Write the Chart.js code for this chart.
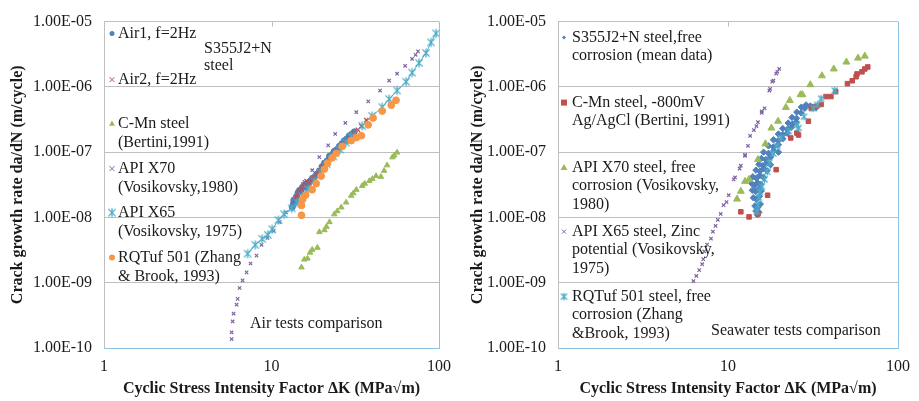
<!DOCTYPE html>
<html>
<head>
<meta charset="utf-8">
<script src="https://cdn.jsdelivr.net/npm/chart.js@4.4.1/dist/chart.umd.min.js"></script>
<style>
    html, body { margin: 0; padding: 0; background: #fff; }
    #wrap { position: relative; width: 919px; height: 401px; }
    #leftChart { position: absolute; left: 0; top: 0; }
    #rightChart { position: absolute; left: 460px; top: 0; }
</style>
</head>
<body>
<div id="wrap">
    <canvas id="leftChart" width="460" height="401"></canvas>
    <canvas id="rightChart" width="459" height="401"></canvas>
</div>
<script>
// Axis ticks (shared by both panels)
const xTickValues = [1, 10, 100];
const xTickLabels = ['1', '10', '100'];
const yTickValues = [1e-10, 1e-9, 1e-8, 1e-7, 1e-6, 1e-5];
const yTickLabels = ['1.00E-10', '1.00E-09', '1.00E-08', '1.00E-07', '1.00E-06', '1.00E-05'];
const xTitle = 'Cyclic Stress Intensity Factor \u0394K (MPa\u221Am)';
const yTitle = 'Crack growth rate da/dN (m/cycle)';

// ---- Air tests (left panel) ----
const air1DK = [13.3, 13.5, 13.6, 13.9, 14.1, 14.4, 14.7, 15.0, 15.3, 15.7, 16.0, 16.4, 16.8, 17.2, 17.6, 18.0, 18.6, 19.3, 20.0, 20.7, 21.5, 22.2, 23.0, 23.7, 24.6, 25.4, 26.3, 27.2, 28.2, 29.1, 30.2, 31.2];
const air1Rate = [1.43e-8, 1.6e-8, 1.85e-8, 1.75e-8, 2.1e-8, 2.4e-8, 2.6e-8, 2.5e-8, 2.9e-8, 3.1e-8, 2.9e-8, 3.3e-8, 3.5e-8, 3.7e-8, 4.0e-8, 4.1e-8, 4.6e-8, 5.1e-8, 6.0e-8, 6.8e-8, 7.4e-8, 8.7e-8, 9.2e-8, 1.03e-7, 1.1e-7, 1.23e-7, 1.35e-7, 1.5e-7, 1.6e-7, 1.78e-7, 1.9e-7, 2.05e-7];

const air2DK = [14.0, 14.3, 14.7, 15.1, 15.5, 15.7, 16.2, 16.8, 17.4, 18.0, 18.6, 19.3, 20.2, 21.3, 22.2, 23.1, 24.2, 25.4, 26.6, 27.9, 29.5, 31.2, 32.8, 34.4, 36.8];
const air2Rate = [2.0e-8, 2.24e-8, 2.6e-8, 2.75e-8, 3.2e-8, 3.05e-8, 3.6e-8, 3.4e-8, 3.9e-8, 4.1e-8, 4.6e-8, 5.3e-8, 6.0e-8, 6.8e-8, 7.8e-8, 8.9e-8, 1.0e-7, 1.14e-7, 1.3e-7, 1.45e-7, 1.65e-7, 1.9e-7, 2.2e-7, 2.5e-7, 3.1e-7];

const cmnAirDK = [15.1, 15.7, 16.4, 17.0, 17.5, 18.8, 19.3, 20.7, 21.3, 22.2, 23.7, 24.7, 26.1, 27.9, 29.9, 30.8, 32.1, 34.8, 36.0, 38.4, 40.0, 42.1, 45.0, 47.0, 49.0, 52.7, 54.0, 56.2];
const cmnAirRate = [1.72e-9, 2.27e-9, 2.35e-9, 2.9e-9, 3.2e-9, 3.44e-9, 5.98e-9, 6.4e-9, 7.2e-9, 8.5e-9, 1.12e-8, 1.25e-8, 1.43e-8, 1.7e-8, 2.16e-8, 2.35e-8, 2.66e-8, 3.05e-8, 3.3e-8, 3.63e-8, 3.9e-8, 4.32e-8, 4.2e-8, 5.2e-8, 6.3e-8, 8.35e-8, 8.9e-8, 9.9e-8];

const x70AirDK = [5.78, 5.78, 5.86, 5.94, 6.19, 6.28, 6.45, 6.72, 7.10, 7.50, 8.14, 8.72, 9.47, 10.3, 11.2, 12.2, 13.3, 14.5, 15.7, 17.5, 19.3, 21.8, 24.0, 27.6, 32.1, 37.8, 44.5, 50.4, 56.2, 62.8, 69.1, 72.5, 75.0];
const x70AirRate = [1.37e-10, 1.74e-10, 2.55e-10, 3.37e-10, 4.6e-10, 5.66e-10, 8.3e-10, 1.09e-9, 1.44e-9, 1.97e-9, 2.6e-9, 3.81e-9, 4.86e-9, 6.2e-9, 8.5e-9, 1.2e-8, 1.7e-8, 2.5e-8, 3.5e-8, 5.3e-8, 8.4e-8, 1.27e-7, 1.9e-7, 2.8e-7, 4.1e-7, 6.0e-7, 8.8e-7, 1.25e-6, 1.59e-6, 2.1e-6, 2.68e-6, 3.1e-6, 3.5e-6];

const x65AirDK = [7.2, 8.0, 8.8, 9.5, 10.1, 11.0, 11.9, 13.2, 14.2, 15.3, 16.5, 18.0, 19.6, 21.4, 23.4, 25.6, 27.8, 29.9, 34.8, 39.9, 45.8, 50.4, 56.2, 63.6, 69.1, 76.0, 83.7, 89.6, 96.0];
const x65AirRate = [2.79e-9, 3.8e-9, 4.7e-9, 5.4e-9, 6.6e-9, 9.1e-9, 1.12e-8, 1.38e-8, 1.7e-8, 2.1e-8, 2.7e-8, 3.6e-8, 4.9e-8, 6.5e-8, 8.6e-8, 1.1e-7, 1.4e-7, 1.73e-7, 2.53e-7, 3.58e-7, 4.9e-7, 6.5e-7, 8.8e-7, 1.2e-6, 1.65e-6, 2.33e-6, 3.3e-6, 4.8e-6, 6.6e-6];

const rqAirDK = [15.1, 15.1, 15.3, 16.0, 17.5, 18.5, 19.8, 20.7, 21.6, 23.0, 24.4, 26.4, 29.9, 32.1, 34.4, 37.8, 40.4, 45.8, 51.9, 55.4];
const rqAirRate = [1.08e-8, 1.53e-8, 1.88e-8, 2.2e-8, 2.66e-8, 3.3e-8, 4.3e-8, 5.5e-8, 6.8e-8, 8.2e-8, 9.6e-8, 1.23e-7, 1.5e-7, 1.67e-7, 1.79e-7, 2.62e-7, 3.34e-7, 4.26e-7, 5.25e-7, 6.24e-7];

const airNames = [
    ['Air1, f=2Hz'],
    ['Air2, f=2Hz'],
    ['C-Mn steel', '(Bertini,1991)'],
    ['API X70', '(Vosikovsky,1980)'],
    ['API X65', '(Vosikovsky, 1975)'],
    ['RQTuf 501 (Zhang', '& Brook, 1993)']
];

// ---- Seawater tests (right panel) ----
const s355DK = [14.9, 14.6, 15.2, 14.4, 15.0, 15.5, 14.1, 14.7, 15.3, 13.9, 14.5, 15.1, 15.7, 13.8, 14.3, 14.9, 15.6, 14.0, 14.7, 15.4, 16.2, 14.6, 15.4, 16.2, 17.0, 15.2, 16.0, 16.9, 17.8, 15.7, 16.7, 17.8, 16.2, 17.3, 18.6, 19.8, 17.3, 18.5, 19.8, 18.5, 19.7, 21.0, 19.8, 21.0, 22.3, 21.0, 22.4, 23.6, 22.6, 24.0, 25.2, 23.8, 25.3, 25.4, 26.9, 27.0, 28.3, 28.8, 30.5, 31.5, 33.0];
const s355Rate = [1.1e-8, 1.25e-8, 1.2e-8, 1.5e-8, 1.45e-8, 1.6e-8, 2.0e-8, 1.9e-8, 2.1e-8, 2.6e-8, 2.5e-8, 2.7e-8, 2.55e-8, 3.3e-8, 3.1e-8, 3.4e-8, 3.2e-8, 4.2e-8, 4.0e-8, 4.4e-8, 4.1e-8, 5.3e-8, 5.1e-8, 5.6e-8, 5.2e-8, 6.5e-8, 6.2e-8, 6.8e-8, 6.4e-8, 8.0e-8, 7.7e-8, 8.4e-8, 1.0e-7, 9.6e-8, 1.05e-7, 1.0e-7, 1.25e-7, 1.2e-7, 1.3e-7, 1.55e-7, 1.5e-7, 1.6e-7, 1.9e-7, 1.85e-7, 1.95e-7, 2.3e-7, 2.25e-7, 2.4e-7, 2.8e-7, 2.7e-7, 2.9e-7, 3.4e-7, 3.3e-7, 4.1e-7, 4.0e-7, 4.9e-7, 4.7e-7, 5.3e-7, 5.1e-7, 4.9e-7, 4.8e-7];

const cmnSeaDK = [11.9, 13.3, 15.0, 17.1, 19.2, 23.4, 25.4, 26.0, 29.7, 30.9, 33.0, 35.3, 37.7, 40.3, 43.0, 50.4, 53.8, 56.7, 57.4, 61.4, 63.8, 66.4];
const cmnSeaRate = [1.22e-8, 1.02e-8, 1.13e-8, 2.19e-8, 5.4e-8, 1.65e-7, 1.96e-7, 1.83e-7, 2.98e-7, 4.69e-7, 5.02e-7, 5.38e-7, 7.1e-7, 7.1e-7, 8.46e-7, 1.12e-6, 1.24e-6, 1.43e-6, 1.58e-6, 1.7e-6, 1.88e-6, 2.02e-6];

const x70SeaDK = [11.3, 11.9, 12.6, 13.3, 15.0, 16.6, 18.0, 19.7, 21.9, 23.1, 26.7, 27.4, 30.5, 35.7, 41.9, 49.7, 58.2, 63.8];
const x70SeaRate = [1.91e-8, 2.52e-8, 3.57e-8, 3.83e-8, 7.7e-8, 1.34e-7, 2.34e-7, 2.98e-7, 4.85e-7, 6.2e-7, 7.6e-7, 7.6e-7, 1.08e-6, 1.48e-6, 1.88e-6, 2.4e-6, 2.76e-6, 2.96e-6];

const x65SeaDK = [6.26, 6.51, 6.77, 7.05, 7.15, 7.24, 7.53, 7.94, 8.15, 8.45, 8.71, 9.06, 9.42, 9.8, 10.1, 10.8, 11.0, 11.7, 11.9, 12.6, 12.6, 13.1, 13.5, 14.2, 14.7, 15.0, 15.8, 15.8, 16.4, 17.5, 17.7, 18.2, 18.5, 19.2, 19.5, 20.0];
const x65SeaRate = [1.06e-9, 1.27e-9, 1.56e-9, 1.92e-9, 2.3e-9, 3.02e-9, 3.85e-9, 4.75e-9, 6.05e-9, 7.4e-9, 9.2e-9, 1.13e-8, 1.55e-8, 1.72e-8, 2.19e-8, 3.83e-8, 4.1e-8, 5.6e-8, 6.2e-8, 8.8e-8, 9.1e-8, 1.25e-7, 1.77e-7, 2.18e-7, 2.5e-7, 2.88e-7, 4.0e-7, 4.2e-7, 4.7e-7, 8.8e-7, 9.3e-7, 1.2e-6, 1.25e-6, 1.6e-6, 1.7e-6, 1.88e-6];

const rqSeaDK = [14.8, 15.0, 15.2, 15.4, 15.8, 16.4, 17.0, 17.5, 18.5, 19.5, 20.5, 22.8, 25.4, 26.0, 28.0, 31.7, 33.5, 35.3, 42.4];
const rqSeaRate = [1.22e-8, 1.55e-8, 2.0e-8, 2.44e-8, 3.0e-8, 3.83e-8, 5.0e-8, 6.9e-8, 9.5e-8, 1.25e-7, 1.65e-7, 2.1e-7, 2.6e-7, 2.34e-7, 3.5e-7, 4.69e-7, 5.3e-7, 6.6e-7, 8.8e-7];

const seaNames = [
    ['S355J2+N steel,free', 'corrosion (mean data)'],
    ['C-Mn steel, -800mV', 'Ag/AgCl (Bertini, 1991)'],
    ['API X70 steel, free', 'corrosion (Vosikovsky,', '1980)'],
    ['API X65 steel, Zinc', 'potential (Vosikovsky,', '1975)'],
    ['RQTuf 501 steel, free', 'corrosion (Zhang', '&Brook, 1993)']
];

// Excel 2007 palette
const BLUE = '#4F81BD', RED = '#C0504D', GREEN = '#9BBB59', PURPLE = '#8064A2', AQUA = '#4BACC6', ORANGE = '#F79646';
const FONT = "'Liberation Serif', 'Times New Roman', serif";
const TEXT = '#1a1a1a';
const GRID = '#bfbfbf';
const FRAME = '#8cc4e8';

Chart.defaults.font.family = FONT;
Chart.defaults.font.size = 16;
Chart.defaults.color = TEXT;

// asterisk marker (x with a vertical bar), like Excel's star marker
function asterisk(r, color) {
    const s = Math.ceil(2 * r + 3);
    const c = document.createElement('canvas');
    c.width = s; c.height = s;
    const g = c.getContext('2d');
    const m = s / 2;
    g.strokeStyle = color;
    g.lineWidth = 1.3;
    g.beginPath();
    g.moveTo(m - r * 0.8, m - r * 0.8); g.lineTo(m + r * 0.8, m + r * 0.8);
    g.moveTo(m - r * 0.8, m + r * 0.8); g.lineTo(m + r * 0.8, m - r * 0.8);
    g.moveTo(m, m - r); g.lineTo(m, m + r);
    g.stroke();
    return c;
}

function pts(xs, ys) {
    return xs.map((x, i) => ({ x: x, y: ys[i] }));
}

function series(xs, ys, style, color, radius, extra) {
    return Object.assign({
        data: pts(xs, ys),
        pointStyle: style,
        pointRadius: radius,
        pointHoverRadius: radius,
        backgroundColor: color,
        borderColor: color,
        pointBorderWidth: 1,
        showLine: false
    }, extra || {});
}

function drawMarker(ctx, ds, x, y, r) {
    const style = ds.pointStyle;
    const color = ds.backgroundColor;
    ctx.save();
    ctx.fillStyle = color;
    ctx.strokeStyle = color;
    ctx.lineWidth = 1;
    if (style instanceof HTMLCanvasElement) {
        ctx.drawImage(style, x - style.width / 2, y - style.height / 2);
    } else {
        ctx.beginPath();
        if (style === 'circle') {
            ctx.arc(x, y, r, 0, Math.PI * 2);
            ctx.fill();
        } else if (style === 'triangle') {
            ctx.moveTo(x, y - r);
            ctx.lineTo(x + r, y + r * 0.7);
            ctx.lineTo(x - r, y + r * 0.7);
            ctx.closePath();
            ctx.fill();
        } else if (style === 'rect') {
            ctx.fillRect(x - r, y - r, 2 * r, 2 * r);
        } else if (style === 'rectRot') {
            ctx.moveTo(x, y - r); ctx.lineTo(x + r, y); ctx.lineTo(x, y + r); ctx.lineTo(x - r, y);
            ctx.closePath();
            ctx.fill();
        } else {
            ctx.moveTo(x - r, y - r); ctx.lineTo(x + r, y + r);
            ctx.moveTo(x - r, y + r); ctx.lineTo(x + r, y - r);
            ctx.stroke();
        }
    }
    ctx.restore();
}

// frame, legend and notes drawn straight on the canvas
function panelPlugin(cfg) {
    return {
        id: 'panel',
        beforeDatasetsDraw(chart) {
            const ctx = chart.ctx, a = chart.chartArea;
            const xs = chart.scales.x;
            ctx.save();
            ctx.strokeStyle = FRAME;
            ctx.lineWidth = 1;
            ctx.beginPath();
            ctx.moveTo(a.left + 0.5, a.bottom + 0.5);
            ctx.lineTo(a.right + 0.5, a.bottom + 0.5);
            ctx.lineTo(a.right + 0.5, a.top);
            ctx.stroke();
            const tx = Math.round(xs.getPixelForValue(10)) + 0.5;
            ctx.strokeStyle = GRID;
            ctx.beginPath();
            ctx.moveTo(tx, a.top);
            ctx.lineTo(tx, a.top + 5);
            ctx.stroke();
            ctx.restore();
        },
        afterDraw(chart) {
            const ctx = chart.ctx, a = chart.chartArea;
            ctx.save();
            ctx.font = '16px ' + FONT;
            ctx.fillStyle = TEXT;
            ctx.textBaseline = 'middle';
            cfg.names.forEach((lines, i) => {
                const ds = chart.data.datasets[i];
                const y0 = a.top + cfg.offsets[i];
                drawMarker(ctx, ds, a.left + cfg.markerX, y0, cfg.markerR[i]);
                ctx.fillStyle = TEXT;
                lines.forEach((line, j) => ctx.fillText(line, a.left + cfg.textX, y0 + j * cfg.lineH));
            });
            cfg.notes.forEach(n => {
                n.lines.forEach((line, j) => ctx.fillText(line, a.left + n.dx, a.top + n.dy + j * 17));
            });
            ctx.restore();
        }
    };
}

function makeOptions(yWidth, padRight, padTop) {
    return {
        responsive: false,
        animation: false,
        devicePixelRatio: 1,
        layout: { padding: { left: 0, right: padRight, top: padTop, bottom: 0 } },
        plugins: { legend: { display: false }, tooltip: { enabled: false } },
        scales: {
            x: {
                type: 'logarithmic',
                min: 1,
                max: 100,
                afterBuildTicks: s => { s.ticks = xTickValues.map(v => ({ value: v })); },
                afterFit: s => { s.height = 53; },
                ticks: { padding: 9, autoSkip: false, maxRotation: 0, callback: (v, i) => xTickLabels[i] },
                grid: { display: false, drawTicks: false },
                border: { display: true, color: FRAME },
                title: { display: true, text: xTitle, font: { size: 16, weight: 'bold' }, padding: { top: 0, bottom: 3 } }
            },
            y: {
                type: 'logarithmic',
                min: 1e-10,
                max: 1e-5,
                afterBuildTicks: s => { s.ticks = yTickValues.map(v => ({ value: v })); },
                afterFit: s => { s.width = yWidth; },
                ticks: { padding: 12, autoSkip: false, callback: (v, i) => yTickLabels[i] },
                grid: { color: GRID, lineWidth: 1, drawTicks: false },
                border: { display: true, color: GRID },
                title: { display: true, text: yTitle, font: { size: 16, weight: 'bold' }, padding: { top: 8, bottom: 0 } }
            }
        }
    };
}

function ordered(list) {
    // later series are drawn on top, as in the original spreadsheet chart
    list.forEach((ds, i) => { ds.order = list.length - i; });
    return list;
}

// Left: air tests
const airDatasets = ordered([
    series(air1DK, air1Rate, 'circle', BLUE, 3),
    series(air2DK, air2Rate, 'crossRot', RED, 3, { pointBorderWidth: 1.3 }),
    series(cmnAirDK, cmnAirRate, 'triangle', GREEN, 3.2),
    series(x70AirDK, x70AirRate, 'crossRot', PURPLE, 2.4, { pointBorderWidth: 1.2 }),
    series(x65AirDK, x65AirRate, asterisk(4.5, AQUA), AQUA, 4.5, { showLine: true, borderWidth: 1 }),
    series(rqAirDK, rqAirRate, 'circle', ORANGE, 3.4)
]);

new Chart(document.getElementById('leftChart').getContext('2d'), {
    type: 'scatter',
    data: { datasets: airDatasets },
    options: makeOptions(104, 20, 16),
    plugins: [panelPlugin({
        names: airNames,
        offsets: [12, 58, 102, 147, 191, 236],
        markerR: [2.5, 2.5, 3, 2.5, 3.5, 3],
        markerX: 8,
        textX: 14,
        lineH: 19,
        notes: [
            { lines: ['S355J2+N', 'steel'], dx: 100, dy: 27 },
            { lines: ['Air tests comparison'], dx: 146, dy: 302 }
        ]
    })]
});

// Right: seawater tests
const seaDatasets = ordered([
    series(s355DK, s355Rate, 'rectRot', BLUE, 3.2),
    series(cmnSeaDK, cmnSeaRate, 'rect', RED, 3.2),
    series(x70SeaDK, x70SeaRate, 'triangle', GREEN, 4),
    series(x65SeaDK, x65SeaRate, 'crossRot', PURPLE, 2.4, { pointBorderWidth: 1.2 }),
    series(rqSeaDK, rqSeaRate, asterisk(3.8, AQUA), AQUA, 3.8)
]);

new Chart(document.getElementById('rightChart').getContext('2d'), {
    type: 'scatter',
    data: { datasets: seaDatasets },
    options: makeOptions(98, 12, 17),
    plugins: [panelPlugin({
        names: seaNames,
        offsets: [16, 81, 146, 210, 275],
        markerR: [2, 3, 3.5, 2, 3.5],
        markerX: 6,
        textX: 14,
        lineH: 18.5,
        notes: [
            { lines: ['Seawater tests comparison'], dx: 153, dy: 309 }
        ]
    })]
});
</script>
</body>
</html>
